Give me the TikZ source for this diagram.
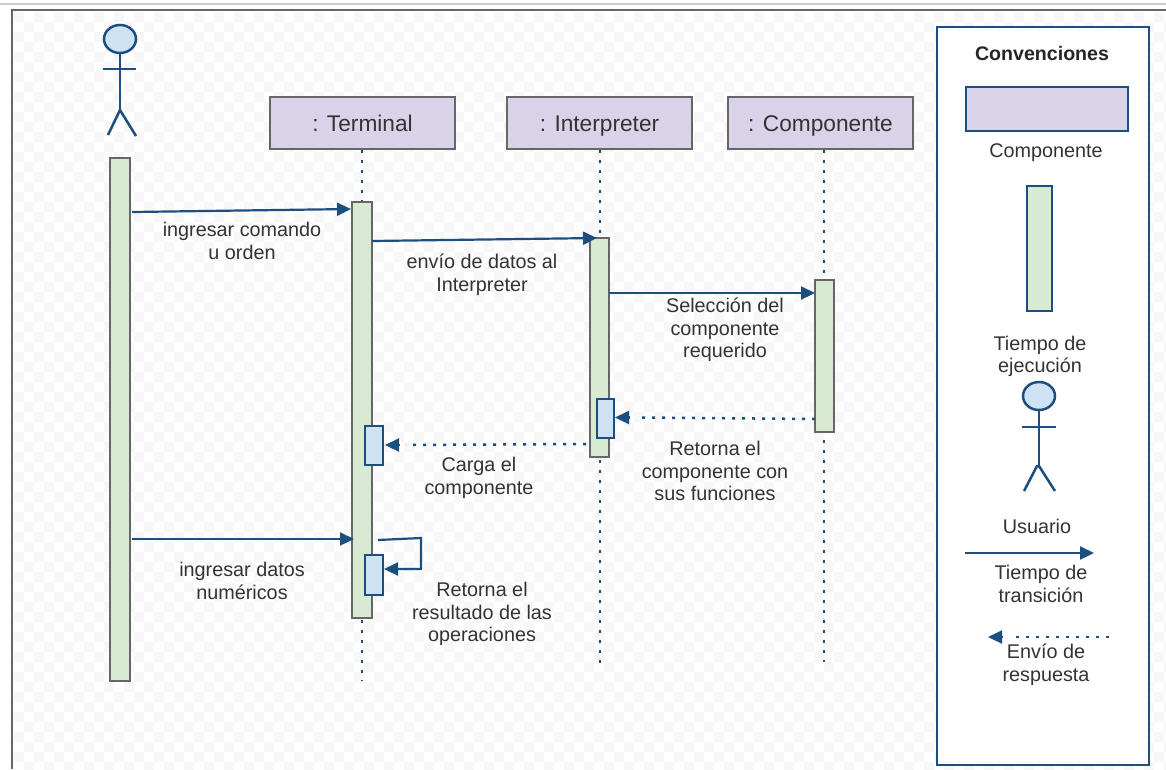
\documentclass[tikz,border=0pt]{standalone}
\usepackage{fontspec}
\setmainfont{Liberation Sans}
\usetikzlibrary{arrows.meta,shapes.geometric}
\definecolor{azul}{HTML}{1C4F80}
\definecolor{lila}{HTML}{D9D2E9}
\definecolor{verde}{HTML}{D9EAD3}
\definecolor{celeste}{HTML}{CFE2F3}
\definecolor{gris}{HTML}{666666}
\definecolor{texto}{HTML}{333333}
\definecolor{cuadro}{HTML}{F7F7F7}
\tikzset{>={Stealth[length=14pt,width=13pt,inset=0pt]}}
\tikzset{
  clase/.style={draw=gris, line width=1.5pt, fill=lila, minimum width=185pt, minimum height=52pt, inner sep=0pt, font=\fontsize{22.7}{26}\selectfont, text=black!80, text height=17pt, text depth=1pt},
  barra/.style={draw=gris, line width=1.5pt, fill=verde, inner sep=0pt},
  bloque/.style={draw=azul, line width=2pt, fill=celeste, inner sep=0pt, minimum width=18pt, minimum height=39pt},
  cabeza/.style={draw=azul, line width=2.5pt, fill=celeste, ellipse, minimum width=32pt, minimum height=28pt, inner sep=0pt},
  nota/.style={align=center, font=\fontsize{19.8}{22.7}\selectfont, text=texto, inner sep=0pt},
  mensaje/.style={->, azul, line width=2.2pt},
  respuesta/.style={azul, line width=2.5pt, dash pattern=on 3pt off 7pt},
  linea/.style={azul, line width=2pt, dash pattern=on 3pt off 7pt},
  palo/.style={azul, line width=2.5pt}
}
\begin{document}
\begin{tikzpicture}[x=1pt,y=-1pt]
    \useasboundingbox (0,0) rectangle (1166,769);
    \fill[white] (0,0) rectangle (1166,769);
    % fondo
    \foreach \i in {0,...,57}
      \foreach \j in {0,...,37}{
        \fill[cuadro] (14+\i*20,12+\j*20) rectangle +(10,10) (24+\i*20,22+\j*20) rectangle +(10,10);
      }
    \draw[black!20, line width=1.5pt] (0,4)--(1166,4);
    \draw[gris, line width=2pt] (12,769)--(12,10)--(1166,10);

    % lineas de vida
    \coordinate (finTerminal) at (362,680);
    \coordinate (finInterpreter) at (600,668);
    \coordinate (finComponente) at (824,662);

    \node[clase] (terminal) at (362.5,123) {: Terminal};
    \node[clase] (interpreter) at (599.5,123) {: Interpreter};
    \node[clase] (componente) at (820.5,123) {: Componente};

    \draw[linea] (terminal.south -| finTerminal)--(finTerminal);
    \draw[linea] (interpreter.south -| finInterpreter)--(finInterpreter);
    \draw[linea] (componente.south -| finComponente)--(finComponente);

    \node[barra, minimum width=20pt, minimum height=523pt] (barraUsuario) at (120,419.5) {};
    \node[barra, minimum width=20pt, minimum height=416pt] (barraTerminal) at (362,410) {};
    \node[barra, minimum width=19pt, minimum height=219pt] (barraInterpreter) at (599.5,347.5) {};
    \node[barra, minimum width=19pt, minimum height=152pt] (barraComponente) at (824.5,356) {};

    \node[bloque] (cargaTerminal) at (374,445.5) {};
    \node[bloque, minimum width=17pt] (cargaInterpreter) at (605.5,418.5) {};
    \node[bloque, minimum height=40pt] (resultado) at (374,575) {};

    % usuario
    \node[cabeza] (cabezaUsuario) at (120,39) {};
    \draw[palo] (cabezaUsuario.south)--(120,110);
    \draw[palo] (103,69)--(136,69);
    \draw[palo] (108,135)--(120,110)--(136,136);

    % mensajes
    \coordinate (a1) at (132,212);
    \coordinate (b1) at (351,209);
    \coordinate (a2) at (372,241);
    \coordinate (b2) at (597,238);
    \coordinate (a3) at (609,293);
    \coordinate (b3) at (815,293);
    \coordinate (a4) at (815,419);
    \coordinate (b4) at (636,417.5);
    \coordinate (c4) at (630,417.5);
    \coordinate (d4) at (615,417.5);
    \coordinate (a5) at (586,444);
    \coordinate (b5) at (406,445);
    \coordinate (c5) at (400,445);
    \coordinate (d5) at (385,445);
    \coordinate (a6) at (132,539);
    \coordinate (b6) at (354,539);
    \coordinate (a7) at (378,540);
    \coordinate (c7) at (421,538);
    \coordinate (d7) at (421,569);

    \draw[mensaje] (a1)--(b1);
    \draw[mensaje] (a2)--(b2);
    \draw[mensaje] (a3)--(b3);
    \draw[mensaje] (a6)--(b6);
    \draw[mensaje] (a7)--(c7)--(d7)--(resultado.east |- d7);
    \draw[respuesta] (a4)--(b4);
    \draw[mensaje] (c4)--(d4);
    \draw[respuesta] (a5)--(b5);
    \draw[mensaje] (c5)--(d5);

    \node[nota] (n1) at (242,241) {ingresar comando\\u orden};
    \node[nota] (n2) at (482,275) {envío de datos al\\Interpreter};
    \node[nota] (n3) at (725,330) {Selección del\\componente\\requerido};
    \node[nota] (n4) at (479,478) {Carga el\\componente};
    \node[nota] (n5) at (715,471) {Retorna el\\componente con\\sus funciones};
    \node[nota] (n6) at (242,581) {ingresar datos\\numéricos};
    \node[nota] (n7) at (482,614) {Retorna el\\resultado de las\\operaciones};

    % convenciones
    \node[draw=azul, line width=2.5pt, fill=white, minimum width=212pt, minimum height=738pt, inner sep=0pt] (cajaConvenciones) at (1043,396) {};
    \node[nota, text=black!85, font=\fontsize{19.6}{22}\selectfont\bfseries] (titulo) at (1042,53) {Convenciones};
    \node[draw=azul, line width=2pt, fill=lila, minimum width=162pt, minimum height=44pt, inner sep=0pt] (muestraClase) at (1047,109) {};
    \node[nota] (n8) at (1046,152.5) {Componente};
    \node[draw=azul, line width=2pt, fill=verde, minimum width=25pt, minimum height=125pt, inner sep=0pt] (muestraBarra) at (1039.5,248.5) {};
    \node[nota] (n9) at (1040,356.5) {Tiempo de\\ejecución};

    \node[cabeza] (cabezaLeyenda) at (1039,396) {};
    \draw[palo] (cabezaLeyenda.south)--(1039,466);
    \draw[palo] (1022,427)--(1056,427);
    \draw[palo] (1024,491)--(1037,466)--(1039,466)--(1055,491);
    \node[nota] (n10) at (1037,526) {Usuario};

    \coordinate (a8) at (965,553);
    \coordinate (b8) at (1094,553);
    \draw[mensaje] (a8)--(b8);
    \node[nota] (n11) at (1041,584) {Tiempo de\\transición};

    \coordinate (a9) at (1109,637);
    \coordinate (b9) at (1009,637);
    \coordinate (c9) at (1003,637);
    \coordinate (d9) at (988,637);
    \draw[respuesta] (a9)--(b9);
    \draw[mensaje] (c9)--(d9);
    \node[nota] (n12) at (1046,665) {Envío de\\respuesta};
\end{tikzpicture}
\end{document}
